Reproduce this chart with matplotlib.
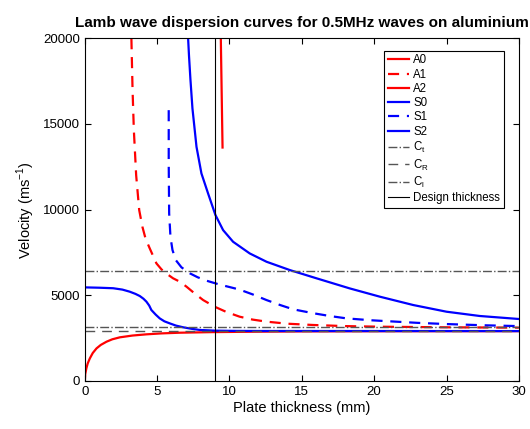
import matplotlib
matplotlib.use("Agg")
import matplotlib.pyplot as plt

plt.rcParams['font.family'] = ['Liberation Sans', 'DejaVu Sans']

# --- values (thickness mm, velocity m/s) ---
a0_d = [0, 0.03, 0.11, 0.2, 0.35, 0.55, 0.81, 1.1, 1.5, 1.9, 2.42, 3.3, 4.26, 5.3, 6.57, 8.85, 12, 15, 20, 30]
a0_v = [0, 400, 740, 1020, 1320, 1630, 1900, 2100, 2290, 2430, 2545, 2650, 2720, 2775, 2815, 2850, 2875, 2890, 2900, 2905]

a1_d = [3.22, 3.3, 3.39, 3.55, 3.76, 3.98, 4.2, 4.49, 4.95, 5.3, 5.7, 6.1, 6.57, 7.03, 7.6, 8.18, 8.98, 9.8,
        10.7, 11.6, 12.56, 14, 15.8, 18, 20.4, 25, 30]
a1_v = [20000, 17000, 14630, 12000, 9970, 9000, 8300, 7730, 6860, 6510, 6230, 5990, 5790, 5500, 5100, 4720,
        4330, 4020, 3750, 3580, 3460, 3340, 3265, 3200, 3165, 3130, 3110]

a2_d = [9.4, 9.46, 9.52]
a2_v = [20000, 16800, 13620]

s0_d = [0, 1.0, 1.96, 2.6, 3.1, 3.5, 3.8, 4.05, 4.26, 4.45, 4.6, 4.9, 5.18, 5.5, 5.87, 6.3, 6.8, 7.4, 7.95, 9.0, 10.5, 12, 30]
s0_v = [5460, 5440, 5410, 5330, 5210, 5080, 4955, 4800, 4625, 4400, 4140, 3870, 3650, 3480, 3360, 3230, 3130, 3040,
        2975, 2935, 2920, 2915, 2910]

s1_d = [5.8, 5.8, 5.83, 5.92, 6.06, 6.29, 6.68, 7.26, 7.8, 8.41, 9.33, 10.0, 10.7, 11.6, 12.56, 13.5, 14.4, 15.8, 17,
        18.1, 19.8, 21.5, 23, 25, 27.5, 30]
s1_v = [15800, 12690, 9780, 8410, 7640, 7050, 6630, 6280, 6050, 5850, 5620, 5480, 5330, 5050, 4720, 4430, 4180, 3950,
        3780, 3650, 3540, 3460, 3390, 3320, 3250, 3200]

s2_d = [7.14, 7.2, 7.3, 7.44, 7.72, 8.06, 8.52, 9.03, 9.56, 10.25, 11.4, 12.56, 14.17, 16.01, 18.31, 20.4, 22.7,
        25, 27.3, 30]
s2_v = [20000, 19000, 17600, 15900, 13660, 12110, 10940, 9680, 8800, 8120, 7440, 6955, 6470, 5990, 5400, 4915,
        4430, 4040, 3790, 3615]

c_t = 3130
c_r = 2900
c_l = 6420
design_thickness = 9

fig = plt.figure(figsize=(5.3, 4.29), dpi=100)
ax = fig.add_axes([0.160, 0.112, 0.819, 0.799])

ax.plot(a0_d, a0_v, color='red', lw=1.6, label='A0')
ax.plot(a1_d, a1_v, color='red', lw=1.6, dashes=(5, 3.5), label='A1')
ax.plot(a2_d, a2_v, color='red', lw=1.6, label='A2')
ax.plot(s0_d, s0_v, color='blue', lw=1.6, label='S0')
ax.plot(s1_d, s1_v, color='blue', lw=1.6, dashes=(5, 3.5), label='S1')
ax.plot(s2_d, s2_v, color='blue', lw=1.6, label='S2')

gray = '#555555'
ax.axhline(c_t, color=gray, lw=1.0, linestyle='-.', label='C$_\\mathregular{t}$')
ax.axhline(c_r, color=gray, lw=1.0, dashes=(7, 5), label='C$_\\mathregular{R}$')
ax.axhline(c_l, color=gray, lw=1.0, linestyle='-.', label='C$_\\mathregular{l}$')
ax.axvline(design_thickness, color='black', lw=0.8, label='Design thickness')

ax.set_xlim(0, 30)
ax.set_ylim(0, 20000)
ax.set_xticks(range(0, 31, 5))
ax.set_yticks(range(0, 20001, 5000))
ax.tick_params(direction='in', top=True, right=True, labelsize=9.5, length=4)

ax.set_xlabel('Plate thickness (mm)', fontsize=10.5, labelpad=2)
ax.set_ylabel('Velocity (ms$^{\\mathregular{-1}}$)', fontsize=10.5)
ax.set_title('Lamb wave dispersion curves for 0.5MHz waves on aluminium',
             fontsize=11, fontweight='bold', pad=8)

leg = ax.legend(loc='upper right', fontsize=8.3, labelspacing=0.2,
                handlelength=1.8, handletextpad=0.4, borderpad=0.3,
                fancybox=False, framealpha=1, edgecolor='black',
                bbox_to_anchor=(0.978, 0.98))
leg.get_frame().set_linewidth(0.8)

fig.savefig('out.png', dpi=100)
